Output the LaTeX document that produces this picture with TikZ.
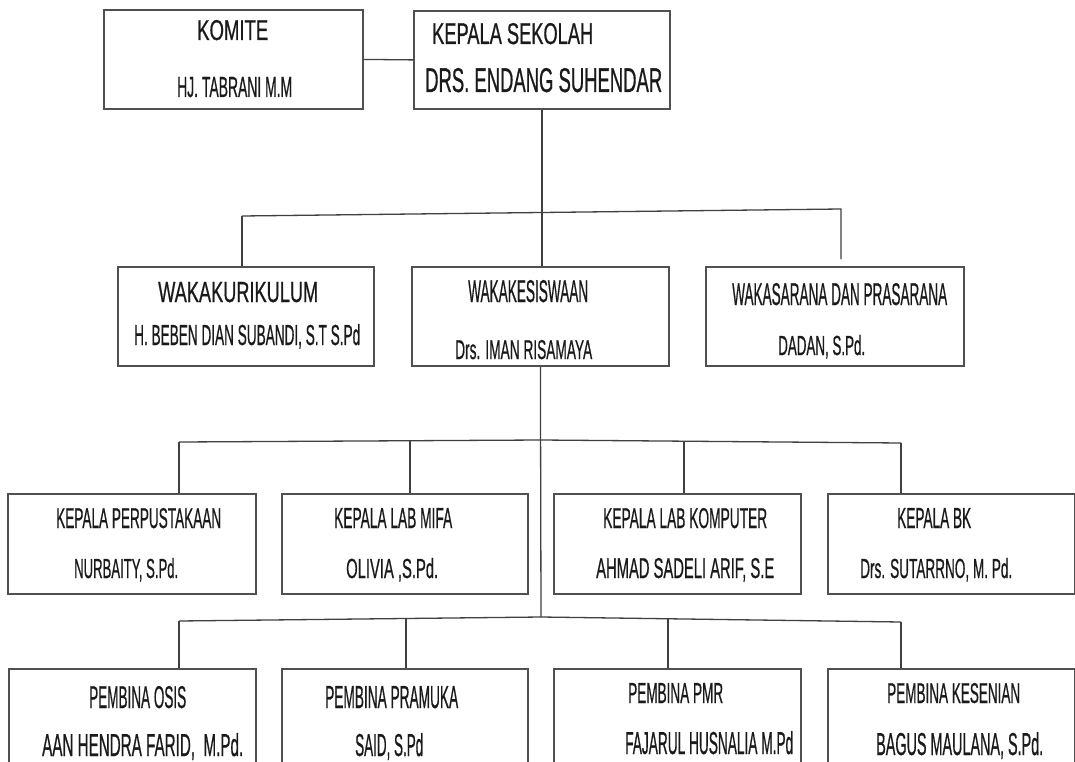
\documentclass[tikz,border=0pt]{standalone}
\usepackage{fontspec}
\setmainfont[FakeBold=0.9]{Liberation Sans}
\usepackage{graphicx}
\definecolor{boxc}{HTML}{505050}
\definecolor{linec}{HTML}{404040}
\definecolor{txt}{HTML}{1A1A1A}
\newcommand\fitt[3]{\resizebox{#1pt}{#2pt}{#3}}
\begin{document}
\begin{tikzpicture}[x=1pt,y=-1pt,
  box/.style={draw=boxc, line width=1.8pt, inner sep=0pt, anchor=north west, fill=white},
  lbl/.style={anchor=base west, inner sep=0pt, text=txt},
  conn/.style={draw=linec, line width=1.3pt}]
\useasboundingbox (0,0) rectangle (1075,762);
\clip (0,0) rectangle (1075,762);
\fill[white] (0,0) rectangle (1075,762);
% boxes
\node[box, minimum width=259pt, minimum height=99pt] (komite) at (103,9) {};
\node[box, minimum width=256pt, minimum height=98pt] (kepala) at (413,10) {};
\node[box, minimum width=256pt, minimum height=99pt] (wk1) at (117,266) {};
\node[box, minimum width=257pt, minimum height=99pt] (wk2) at (411,266) {};
\node[box, minimum width=258pt, minimum height=99pt] (wk3) at (705,266) {};
\node[box, minimum width=248pt, minimum height=100pt] (r3a) at (7,493) {};
\node[box, minimum width=246pt, minimum height=100pt] (r3b) at (281,493) {};
\node[box, minimum width=247pt, minimum height=100pt] (r3c) at (553,493) {};
\node[box, minimum width=247pt, minimum height=100pt] (r3d) at (827,493) {};
\node[box, minimum width=247pt, minimum height=130pt] (r4a) at (8,668) {};
\node[box, minimum width=246pt, minimum height=130pt] (r4b) at (281,668) {};
\node[box, minimum width=247pt, minimum height=130pt] (r4c) at (553,668) {};
\node[box, minimum width=247pt, minimum height=130pt] (r4d) at (827,668) {};
% connectors
\draw[conn] (komite.east) -- (kepala.west);
\coordinate (h1l) at (242,216);
\coordinate (h1r) at (841,209);
\coordinate (h1rd) at (841,259);
\draw[conn] (kepala.south) -- (kepala.south |- wk2.north);
\draw[conn] (h1l) -- (h1r) -- (h1rd);
\draw[conn] (h1l) -- (h1l |- wk1.north);
% row 3
\coordinate (v4) at (541,617);
\draw[conn] (wk2.south) -- (v4);
\coordinate (h3l) at (179,442);
\coordinate (h3m) at (541,440);
\coordinate (h3r) at (901,443);
\draw[conn] (h3l) -- (h3m) -- (h3r);
\draw[conn] (h3l) -- (h3l |- r3a.north);
\draw[conn] (410,440.7) -- (410,493);
\draw[conn] (684,441.2) -- (684,493);
\draw[conn] (h3r) -- (h3r |- r3d.north);
% row 4
\coordinate (h4l) at (179,621);
\coordinate (h4r) at (901,622);
\draw[conn] (h4l) -- (v4) -- (h4r);
\draw[conn] (h4l) -- (h4l |- r4a.north);
\draw[conn] (406,618.5) -- (406,668);
\draw[conn] (668,618.8) -- (668,668);
\draw[conn] (h4r) -- (h4r |- r4d.north);
% texts row 1
\node[lbl] (t1a) at (197,40) {\fitt{71}{20}{KOMITE}};
\node[lbl] (t1b) at (177,97) {\fitt{115}{20}{HJ. TABRANI M.M}};
\node[lbl] (t2a) at (432,44) {\fitt{161}{21}{KEPALA SEKOLAH}};
\node[lbl] (t2b) at (425,92) {\fitt{237}{24}{DRS. ENDANG SUHENDAR}};
% row 2
\node[lbl] (t3a) at (158,302) {\fitt{160}{20}{WAKAKURIKULUM}};
\node[lbl] (t3b) at (134,345) {\fitt{226}{21}{H. BEBEN DIAN SUBANDI, S.T S.Pd}};
\node[lbl] (t4a) at (468,302) {\fitt{120}{22}{WAKAKESISWAAN}};
\node[lbl] (t4b) at (455,359) {\fitt{137}{19}{Drs. IMAN RISAMAYA}};
\node[lbl] (t5a) at (732,305) {\fitt{215}{22}{WAKASARANA DAN PRASARANA}};
\node[lbl] (t5b) at (778,355) {\fitt{87}{20}{DADAN, S.Pd.}};
% row 3
\node[lbl] (t6a) at (56,528) {\fitt{165}{20}{KEPALA PERPUSTAKAAN}};
\node[lbl] (t6b) at (74,578) {\fitt{104}{20}{NURBAITY, S.Pd.}};
\node[lbl] (t7a) at (334,528) {\fitt{118}{20}{KEPALA LAB MIFA}};
\node[lbl] (t7b) at (346,578) {\fitt{92}{20}{OLIVIA ,S.Pd.}};
\node[lbl] (t8a) at (603,528) {\fitt{164}{20}{KEPALA LAB KOMPUTER}};
\node[lbl] (t8b) at (596,578) {\fitt{178}{20}{AHMAD SADELI ARIF, S.E}};
\node[lbl] (t9a) at (897,528) {\fitt{74}{20}{KEPALA BK}};
\node[lbl] (t9b) at (860,578) {\fitt{152}{20}{Drs. SUTARRNO, M. Pd.}};
% row 4
\node[lbl] (t10a) at (89,708) {\fitt{97}{22}{PEMBINA OSIS}};
\node[lbl] (t10b) at (42,756) {\fitt{201}{23}{AAN HENDRA FARID,\ \ M.Pd.}};
\node[lbl] (t11a) at (325,708) {\fitt{133}{22}{PEMBINA PRAMUKA}};
\node[lbl] (t11b) at (355,756) {\fitt{68}{23}{SAID, S.Pd}};
\node[lbl] (t12a) at (628,703) {\fitt{95}{20}{PEMBINA PMR}};
\node[lbl] (t12b) at (625,754) {\fitt{168}{23}{FAJARUL HUSNALIA M.Pd}};
\node[lbl] (t13a) at (887,703) {\fitt{133}{20}{PEMBINA KESENIAN}};
\node[lbl] (t13b) at (876,755) {\fitt{167}{23}{BAGUS MAULANA, S.Pd.}};
\end{tikzpicture}
\end{document}
